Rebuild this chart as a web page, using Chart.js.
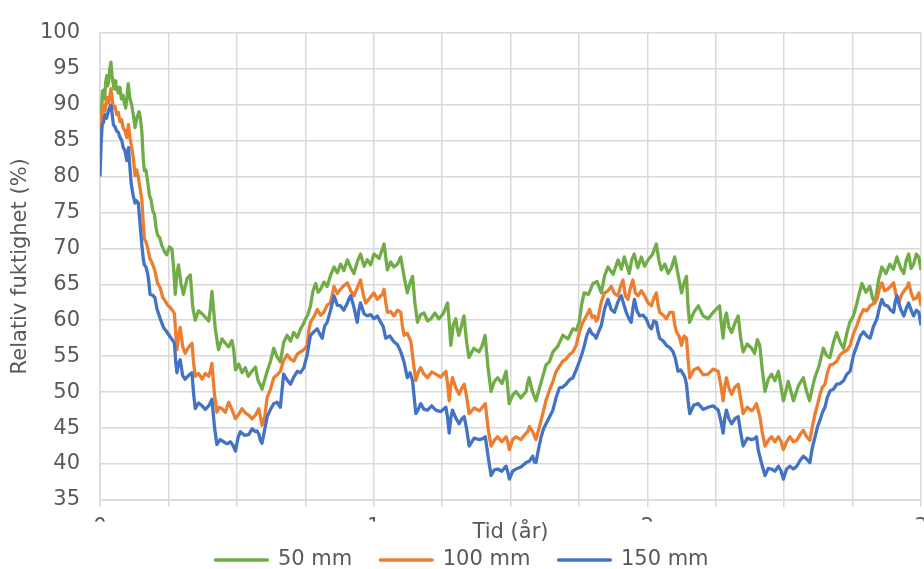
<!DOCTYPE html>
<html lang="sv">
<head>
<meta charset="utf-8">
<title>Relativ fuktighet</title>
<script src="https://cdn.jsdelivr.net/npm/chart.js@4/dist/chart.umd.min.js"></script>
<style>
  html, body { margin: 0; padding: 0; background: #ffffff; }
  #wrap { width: 924px; height: 569px; }
</style>
</head>
<body>
<div id="wrap"><canvas id="chart" width="924" height="569"></canvas></div>
<script>
// [tid (år), relativ fuktighet (%)] för varje djup
const rh50 = [
  [0, 87], [.003, 88.2], [.006, 89.5], [.009, 91.8], [.012, 92], [.015, 90.8], [.018, 91.5], [.021, 93.2], [.025, 94], [.028, 92.6],
  [.032, 93.2], [.036, 95], [.040, 95.9], [.044, 94], [.048, 93], [.051, 92.2], [.055, 93.3], [.058, 92.1], [.061, 92.5], [.067, 91.6],
  [.073, 92.4], [.078, 90.8], [.084, 91.3], [.089, 90.2], [.094, 89.5], [.099, 91.2], [.103, 92.9], [.109, 90.9], [.116, 89.9], [.122, 88.5],
  [.128, 86.8], [.135, 88.2], [.143, 89], [.148, 87.9], [.153, 86.2], [.158, 82.5], [.162, 80.8], [.168, 80.9], [.175, 79], [.181, 77.3],
  [.187, 76.7], [.193, 75.2], [.199, 74.7], [.205, 72.8], [.211, 71.8], [.218, 71.5], [.226, 70.4], [.235, 69.6], [.244, 69.1], [.254, 70.2],
  [.263, 69.9], [.269, 67.2], [.275, 63.6], [.281, 66.5], [.287, 67.7], [.296, 65.1], [.305, 63.6], [.318, 65.8], [.330, 66.3], [.339, 61.8],
  [.348, 60], [.360, 61.3], [.373, 60.9], [.385, 60.4], [.397, 59.9], [.403, 61.5], [.409, 64], [.421, 58.9], [.433, 55.9], [.446, 57.4],
  [.458, 56.8], [.470, 56.3], [.482, 57.2], [.489, 55.8], [.495, 53.1], [.507, 53.9], [.519, 52.7], [.531, 53.4], [.542, 52.2], [.555, 52.9],
  [.568, 53.5], [.577, 51.7], [.586, 51], [.592, 50.4], [.601, 51.6], [.611, 52.9], [.623, 54.3], [.635, 56.1], [.647, 54.9], [.659, 54.2],
  [.671, 56.9], [.684, 57.9], [.696, 57.1], [.708, 58.3], [.721, 57.6], [.733, 58.8], [.742, 59.4], [.751, 60.2], [.760, 60.8], [.769, 62],
  [.779, 64.2], [.788, 65.1], [.797, 63.9], [.806, 64.3], [.818, 65.3], [.830, 64.7], [.842, 66.2], [.855, 67.4], [.867, 66.6], [.879, 67.8],
  [.891, 66.9], [.904, 68.4], [.916, 67.3], [.928, 66.5], [.940, 68.1], [.952, 69.2], [.965, 67.5], [.977, 68.4], [.989, 67.7], [1.001, 69.2],
  [1.020, 68.6], [1.038, 70.6], [1.044, 68.8], [1.050, 67], [1.062, 68.1], [1.074, 67.4], [1.087, 67.8], [1.099, 68.8], [1.111, 66.1], [1.123, 63.8],
  [1.133, 65.2], [1.142, 66.1], [1.151, 62.3], [1.160, 59.7], [1.172, 60.8], [1.184, 61], [1.197, 59.9], [1.209, 60.2], [1.224, 61], [1.238, 60.2],
  [1.254, 60.9], [1.270, 62.4], [1.276, 59.8], [1.282, 56.5], [1.291, 59.4], [1.300, 60.2], [1.305, 58.9], [1.311, 57.9], [1.320, 59.1], [1.330, 60.6],
  [1.339, 57.2], [1.348, 54.8], [1.366, 56.1], [1.385, 55.6], [1.396, 56.4], [1.407, 57.9], [1.418, 53.4], [1.429, 50.1], [1.441, 51.5], [1.453, 52],
  [1.469, 51.2], [1.484, 52.9], [1.490, 50.6], [1.495, 48.4], [1.508, 49.6], [1.520, 50.1], [1.538, 49.2], [1.557, 50.1], [1.562, 51.2], [1.568, 52],
  [1.580, 50.1], [1.593, 48.8], [1.612, 51.4], [1.630, 53.8], [1.642, 54.2], [1.655, 55.6], [1.673, 56.4], [1.691, 57.9], [1.710, 57.4], [1.728, 58.8],
  [1.740, 58.6], [1.751, 59.7], [1.760, 62.2], [1.769, 63.8], [1.785, 63.6], [1.801, 65.1], [1.816, 65.4], [1.832, 63.8], [1.844, 66.2], [1.856, 67.4],
  [1.875, 66.4], [1.893, 68.4], [1.905, 67.1], [1.916, 68.8], [1.925, 67.6], [1.934, 66.5], [1.943, 68.4], [1.952, 69.2], [1.965, 67.3], [1.978, 68.8],
  [1.990, 67.5], [2.003, 68.4], [2.018, 69.1], [2.033, 70.6], [2.042, 68.4], [2.051, 67], [2.064, 67.8], [2.076, 66.5], [2.088, 67.3], [2.100, 68.8],
  [2.112, 66.4], [2.125, 63.8], [2.134, 65.2], [2.143, 66.1], [2.148, 62.3], [2.154, 59.7], [2.170, 61.1], [2.186, 62], [2.204, 60.6], [2.222, 60.2],
  [2.243, 61.2], [2.264, 62], [2.270, 59.6], [2.277, 57.5], [2.283, 60.1], [2.289, 61], [2.298, 59.1], [2.308, 58.3], [2.320, 59.6], [2.332, 60.6],
  [2.341, 57.6], [2.350, 55.6], [2.365, 56.7], [2.381, 56.1], [2.392, 55.4], [2.402, 57.3], [2.411, 56.5], [2.420, 53.1], [2.430, 50.1], [2.442, 51.8],
  [2.454, 52.5], [2.466, 51.6], [2.479, 52.9], [2.488, 50.9], [2.497, 48.8], [2.506, 50.1], [2.515, 51.5], [2.524, 50.2], [2.534, 48.8], [2.552, 50.9],
  [2.570, 52], [2.582, 50.1], [2.593, 48.8], [2.603, 50.6], [2.612, 52], [2.627, 53.6], [2.643, 56.1], [2.655, 55.1], [2.667, 54.8], [2.680, 56.9],
  [2.692, 58.3], [2.705, 56.9], [2.717, 56.1], [2.729, 58.2], [2.740, 59.7], [2.753, 60.6], [2.766, 62.4], [2.775, 63.8], [2.784, 65.1], [2.799, 63.9],
  [2.813, 64.7], [2.823, 63.1], [2.832, 62.4], [2.845, 65.6], [2.857, 67.4], [2.872, 66.5], [2.886, 67.8], [2.899, 67.1], [2.912, 68.8], [2.925, 67.3],
  [2.937, 66.5], [2.946, 68.3], [2.955, 69.2], [2.964, 67.2], [2.973, 67.8], [2.983, 69.2], [2.992, 68.8], [3.0, 67]
];

const rh100 = [
  [0, 85.8], [.006, 88.4], [.012, 89.9], [.018, 89.1], [.025, 91], [.032, 90.2], [.040, 92.2], [.044, 91], [.049, 89.5], [.055, 89.7],
  [.061, 88.6], [.067, 88.9], [.073, 87.6], [.079, 87.9], [.085, 86.7], [.091, 86.4], [.098, 85.4], [.104, 87.2], [.110, 85.3], [.116, 84],
  [.122, 82.5], [.128, 80.1], [.134, 80.9], [.140, 79.9], [.147, 78.2], [.153, 76.7], [.158, 73.5], [.162, 71.3], [.168, 70.9], [.175, 69.9],
  [.182, 68.6], [.189, 68.1], [.195, 67.5], [.201, 66.8], [.210, 65.2], [.220, 64.5], [.229, 63.2], [.238, 62.7], [.247, 62.1], [.256, 61.8],
  [.264, 61.4], [.272, 60.9], [.277, 58.1], [.281, 55.9], [.287, 57.8], [.293, 59], [.302, 56.4], [.311, 55.4], [.323, 56.2], [.336, 56.8],
  [.342, 54.1], [.348, 52.2], [.360, 52.6], [.373, 51.8], [.385, 52.6], [.397, 52.2], [.403, 52.9], [.409, 54], [.418, 49.8], [.427, 47.2],
  [.436, 47.9], [.446, 47.7], [.458, 47.2], [.470, 48.6], [.482, 47.6], [.495, 46.3], [.507, 46.9], [.519, 47.7], [.531, 47.1], [.543, 46.8],
  [.556, 46.3], [.568, 46.8], [.580, 47.7], [.586, 46.6], [.592, 45.4], [.602, 46.6], [.611, 49.3], [.623, 50.4], [.635, 52], [.647, 52.4],
  [.659, 52.9], [.671, 54.4], [.684, 55.2], [.696, 54.6], [.708, 54.3], [.721, 55.3], [.733, 55.6], [.745, 55.9], [.757, 56.5], [.763, 58.5],
  [.769, 59.7], [.782, 60.5], [.794, 61.5], [.806, 60.7], [.818, 61.1], [.830, 62.1], [.842, 62.4], [.849, 63.6], [.855, 64.7], [.867, 63.7],
  [.879, 64.3], [.891, 64.8], [.904, 65.2], [.916, 64.1], [.928, 63.4], [.940, 64.5], [.952, 65.6], [.962, 63.6], [.971, 62.4], [.986, 63.1],
  [1.001, 63.8], [1.013, 62.9], [1.026, 63.4], [1.032, 63.6], [1.038, 64.3], [1.044, 62.5], [1.050, 61.1], [1.062, 61.2], [1.074, 60.6], [1.087, 61.4],
  [1.099, 61.1], [1.105, 59.2], [1.111, 57.9], [1.123, 58.2], [1.136, 57], [1.145, 54.2], [1.154, 51.6], [1.163, 52.8], [1.172, 53.4], [1.184, 52.5],
  [1.197, 52], [1.212, 52.8], [1.227, 52.5], [1.245, 52.1], [1.264, 52.9], [1.270, 51.2], [1.276, 48.8], [1.282, 50.9], [1.288, 52], [1.300, 50.6],
  [1.312, 49.7], [1.321, 50.5], [1.331, 51.1], [1.340, 49.3], [1.349, 47], [1.367, 47.8], [1.386, 47.4], [1.397, 47.9], [1.408, 48.4], [1.418, 45],
  [1.429, 42.5], [1.441, 43.3], [1.453, 43.8], [1.468, 43.1], [1.484, 43.8], [1.490, 43.1], [1.496, 42], [1.508, 43.4], [1.520, 43.8], [1.538, 43.4],
  [1.557, 44.3], [1.563, 44.5], [1.569, 45.2], [1.581, 44.5], [1.593, 43.4], [1.605, 45.1], [1.618, 47], [1.630, 48.9], [1.642, 50.2], [1.655, 51.5],
  [1.667, 52.9], [1.679, 53.6], [1.691, 54.3], [1.703, 54.6], [1.715, 55.2], [1.728, 55.6], [1.740, 56.5], [1.752, 58.4], [1.764, 59.7], [1.776, 60.5],
  [1.789, 61.5], [1.798, 60.4], [1.807, 60.6], [1.813, 59.9], [1.819, 60.2], [1.832, 62.6], [1.844, 63.8], [1.856, 64.1], [1.868, 64.7], [1.880, 63.7],
  [1.893, 63.4], [1.902, 64.7], [1.911, 65.6], [1.920, 63.4], [1.929, 62.9], [1.938, 64.5], [1.947, 65.6], [1.956, 63.8], [1.966, 63.4], [1.978, 64.1],
  [1.990, 63.4], [2.003, 62.4], [2.015, 62], [2.024, 63.1], [2.033, 63.8], [2.039, 62.2], [2.045, 61.1], [2.058, 60.7], [2.070, 60.2], [2.082, 61.1],
  [2.094, 61.1], [2.100, 59.4], [2.106, 58.4], [2.116, 57.8], [2.125, 56.5], [2.134, 57.8], [2.143, 57.5], [2.149, 54.5], [2.155, 52], [2.170, 53.1],
  [2.186, 53.4], [2.204, 52.4], [2.222, 52.5], [2.240, 53.2], [2.259, 52.9], [2.268, 51.1], [2.277, 48.8], [2.283, 50.8], [2.289, 52], [2.298, 50.6],
  [2.308, 49.7], [2.320, 50.7], [2.332, 51.1], [2.341, 49.1], [2.350, 47], [2.365, 47.9], [2.381, 47.4], [2.390, 47.8], [2.399, 48.4], [2.411, 46.6],
  [2.420, 44.4], [2.430, 42.5], [2.442, 43.3], [2.454, 43.8], [2.466, 43.1], [2.479, 43.8], [2.488, 43.2], [2.497, 42], [2.509, 43.1], [2.521, 43.8],
  [2.534, 43.1], [2.546, 43.3], [2.558, 44.1], [2.570, 44.7], [2.582, 43.8], [2.594, 43.3], [2.603, 45.2], [2.613, 47], [2.622, 48.3], [2.631, 49.7],
  [2.640, 50.7], [2.649, 51.1], [2.658, 52.7], [2.668, 53.8], [2.680, 53.9], [2.692, 54.3], [2.705, 55.2], [2.717, 55.6], [2.729, 55.8], [2.741, 56.5],
  [2.753, 58.1], [2.766, 59.3], [2.778, 60.6], [2.790, 61.5], [2.802, 61.3], [2.814, 62], [2.826, 62.3], [2.839, 62.9], [2.848, 64.4], [2.857, 65.2],
  [2.867, 64.1], [2.878, 64.3], [2.889, 64.7], [2.900, 65.2], [2.909, 63.5], [2.918, 62.4], [2.930, 63.6], [2.942, 64.3], [2.949, 64.6], [2.955, 65.2],
  [2.964, 63.8], [2.973, 62.9], [2.983, 63.1], [2.992, 63.8], [3.0, 62]
];

const rh150 = [
  [0, 80], [.004, 84.5], [.008, 87.2], [.013, 87.5], [.018, 88.6], [.024, 88.1], [.030, 89], [.035, 89.6], [.040, 89.9], [.045, 88.5],
  [.049, 87.2], [.055, 86.9], [.061, 86.3], [.067, 86.1], [.073, 85.4], [.079, 85.1], [.085, 84], [.091, 83.6], [.098, 82.2], [.104, 84],
  [.109, 81.4], [.114, 79], [.121, 77.4], [.128, 76.3], [.134, 76.6], [.140, 76.3], [.147, 73.1], [.153, 70.4], [.158, 68.6], [.162, 67.7],
  [.168, 67.4], [.175, 66.3], [.179, 65.1], [.183, 63.6], [.192, 63.5], [.201, 63.1], [.208, 61.6], [.214, 60.9], [.223, 59.9], [.232, 59],
  [.244, 58.4], [.256, 57.7], [.264, 57.3], [.272, 56.8], [.277, 54.1], [.281, 52.7], [.287, 54], [.293, 54.5], [.302, 52.3], [.311, 51.8],
  [.323, 52.3], [.336, 52.7], [.342, 49.8], [.348, 47.7], [.360, 48.5], [.373, 48.1], [.385, 47.6], [.397, 48.1], [.403, 48.5], [.409, 49],
  [.418, 45.3], [.427, 42.7], [.439, 43.4], [.452, 43.1], [.464, 42.8], [.476, 43.1], [.486, 42.6], [.495, 41.8], [.504, 43.6], [.513, 44.5],
  [.528, 44], [.543, 44.1], [.556, 44.9], [.568, 44.5], [.574, 44.6], [.580, 44.2], [.586, 43.3], [.592, 42.9], [.602, 44.8], [.611, 46.6],
  [.623, 47.6], [.635, 48.4], [.647, 48.6], [.659, 47.9], [.665, 50.2], [.671, 52.5], [.684, 51.7], [.696, 51.1], [.708, 52.1], [.721, 52.9],
  [.733, 52.7], [.745, 53.4], [.757, 55.2], [.769, 57.9], [.782, 58.4], [.794, 58.8], [.803, 58.1], [.812, 57.5], [.821, 59.2], [.830, 59.7],
  [.842, 61.3], [.855, 63.4], [.867, 62.1], [.879, 62], [.891, 61.4], [.904, 62.4], [.910, 63], [.916, 63.4], [.928, 61.8], [.940, 59.7],
  [.946, 61.4], [.952, 62.4], [.965, 60.9], [.977, 60.6], [.989, 60.8], [1.001, 60.2], [1.013, 60.6], [1.026, 59.7], [1.035, 59.1], [1.044, 57.5],
  [1.059, 57.8], [1.074, 57], [1.087, 56.6], [1.099, 55.6], [1.111, 54.2], [1.123, 52], [1.133, 52.7], [1.142, 51.6], [1.148, 49.3], [1.154, 47],
  [1.163, 47.6], [1.172, 48.4], [1.184, 47.6], [1.197, 47.5], [1.212, 48.1], [1.227, 47.5], [1.245, 47.3], [1.264, 47.9], [1.270, 46.5], [1.276, 44.3],
  [1.282, 46.4], [1.288, 47.5], [1.300, 46.4], [1.312, 45.6], [1.321, 46.2], [1.331, 46.6], [1.340, 44.8], [1.349, 42.5], [1.367, 43.6], [1.386, 43.4],
  [1.397, 43.5], [1.408, 43.8], [1.418, 41.1], [1.429, 38.4], [1.441, 39.2], [1.453, 39.3], [1.468, 39], [1.484, 39.7], [1.490, 38.9], [1.496, 37.9],
  [1.508, 39], [1.520, 39.3], [1.538, 39.6], [1.557, 40.2], [1.569, 40.4], [1.581, 41.1], [1.587, 40.3], [1.593, 40.2], [1.603, 42.2], [1.612, 43.8],
  [1.621, 44.9], [1.630, 45.6], [1.642, 46.5], [1.655, 47.5], [1.667, 49.3], [1.679, 50.6], [1.691, 50.7], [1.703, 51.1], [1.715, 51.7], [1.728, 52],
  [1.740, 53.1], [1.752, 54.3], [1.761, 55.3], [1.770, 56.5], [1.779, 57.9], [1.789, 58.8], [1.798, 58.1], [1.807, 57.9], [1.813, 57.5], [1.822, 58.4],
  [1.832, 59.3], [1.844, 61.6], [1.856, 62.9], [1.868, 61.5], [1.880, 61.1], [1.893, 62.6], [1.905, 63.4], [1.914, 62.2], [1.923, 61.1], [1.932, 60.3],
  [1.941, 59.7], [1.947, 61.6], [1.953, 62.9], [1.962, 61.3], [1.972, 60.6], [1.984, 60.7], [1.996, 60.2], [2.006, 59.2], [2.015, 58.8], [2.024, 59.9],
  [2.033, 59.7], [2.039, 58.4], [2.045, 57.5], [2.058, 57.1], [2.070, 56.5], [2.082, 56.2], [2.094, 55.6], [2.103, 54.6], [2.112, 52.9], [2.122, 53.1],
  [2.131, 52.5], [2.137, 52.1], [2.143, 51.1], [2.149, 48.8], [2.155, 47], [2.170, 48.2], [2.186, 48.4], [2.204, 47.6], [2.222, 47.9], [2.240, 48.1],
  [2.259, 47.5], [2.268, 46.1], [2.277, 44.3], [2.283, 46.4], [2.289, 47.5], [2.298, 46.3], [2.308, 45.6], [2.320, 46.3], [2.332, 46.6], [2.341, 44.4],
  [2.350, 42.5], [2.365, 43.6], [2.381, 43.4], [2.390, 43.5], [2.399, 43.8], [2.405, 42], [2.418, 40], [2.430, 38.4], [2.442, 39.4], [2.454, 39.3],
  [2.466, 39], [2.479, 39.7], [2.488, 39.1], [2.497, 37.9], [2.509, 39.3], [2.521, 39.7], [2.534, 39.3], [2.546, 39.7], [2.558, 40.5], [2.570, 41.1],
  [2.582, 40.7], [2.594, 40.2], [2.603, 42.3], [2.613, 43.8], [2.622, 45.2], [2.631, 46.1], [2.640, 47.2], [2.649, 47.9], [2.658, 49.3], [2.668, 50.2],
  [2.680, 50.4], [2.692, 51.1], [2.705, 51.2], [2.717, 51.6], [2.729, 52.5], [2.741, 52.9], [2.753, 55.1], [2.766, 56.5], [2.778, 57.8], [2.790, 58.4],
  [2.802, 57.8], [2.814, 57.5], [2.826, 59.1], [2.839, 60.2], [2.848, 61.7], [2.857, 62.9], [2.867, 62.1], [2.878, 62], [2.889, 61.4], [2.900, 61.1],
  [2.906, 62.6], [2.912, 63.4], [2.925, 61.6], [2.937, 60.6], [2.946, 61.6], [2.955, 62.4], [2.964, 61.4], [2.973, 60.6], [2.983, 61.4], [2.992, 61.1],
  [3.0, 59.3]
];

const seriesNames = ['50 mm', '100 mm', '150 mm'];
const seriesColors = ['#70ad47', '#ed7d31', '#4472c4'];
const yearLabels = [0, 1, 2, 3];

const textColor = '#595959';
const gridColor = '#d9d9d9';

Chart.defaults.font.family = "'DejaVu Sans', Verdana, sans-serif";
Chart.defaults.font.size = 21;
Chart.defaults.color = textColor;

const series = [rh50, rh100, rh150];

new Chart(document.getElementById('chart'), {
  type: 'line',
  data: {
    datasets: series.map((rows, i) => ({
      label: seriesNames[i],
      data: rows.map(([t, v]) => ({ x: t, y: v })),
      borderColor: seriesColors[i],
      backgroundColor: seriesColors[i],
      borderWidth: 3.3,
      borderJoinStyle: 'round',
      pointRadius: 0,
      tension: 0,
      fill: false,
      order: 3 - i
    }))
  },
  options: {
    responsive: false,
    animation: false,
    events: [],
    layout: { padding: { top: 21, right: 0, bottom: -11.5, left: 0 } },
    plugins: {
      tooltip: { enabled: false },
      legend: {
        position: 'bottom',
        labels: {
          boxWidth: 52,
          boxHeight: 0,
          padding: 28,
          color: textColor,
          font: { size: 21 },
          sort: (a, b) => a.datasetIndex - b.datasetIndex
        }
      }
    },
    scales: {
      x: {
        type: 'linear',
        min: 0,
        max: 3,
        afterFit: s => { s.height = 21.5; s.paddingRight = 3; },
        ticks: {
          stepSize: 0.25,
          autoSkip: false,
          maxRotation: 0,
          padding: 8,
          color: textColor,
          callback: v => (yearLabels.includes(v) ? String(v) : '')
        },
        grid: { color: gridColor, lineWidth: 1.5, drawTicks: true, tickLength: 7 },
        border: { color: gridColor, width: 1.5 },
        title: {
          display: true,
          text: 'Tid (år)',
          color: textColor,
          font: { size: 21 },
          padding: { top: 0, bottom: -24 }
        }
      },
      y: {
        min: 35,
        max: 100,
        afterFit: s => { s.width = 100; },
        ticks: { stepSize: 5, padding: 20, color: textColor },
        grid: { color: gridColor, lineWidth: 1.5, drawTicks: false },
        border: { color: gridColor, width: 1.5 },
        title: {
          display: true,
          text: 'Relativ fuktighet (%)',
          color: textColor,
          font: { size: 21 },
          padding: { top: 8.4, bottom: 0 }
        }
      }
    }
  }
});
</script>
</body>
</html>
